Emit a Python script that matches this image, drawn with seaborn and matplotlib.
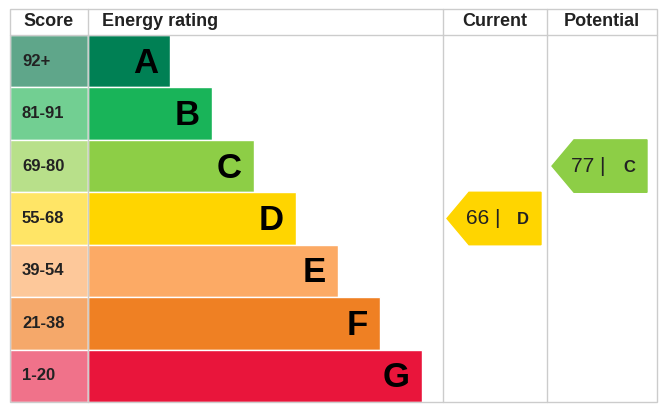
import matplotlib
matplotlib.use("Agg")
import matplotlib.pyplot as plt
from matplotlib.patches import Polygon, Rectangle
import seaborn as sns

sns.set_theme(style="white")
plt.rcParams['font.family'] = ['Liberation Sans', 'DejaVu Sans']

letters = ["A", "B", "C", "D", "E", "F", "G"]
score_ranges = ["92+", "81-91", "69-80", "55-68", "39-54", "21-38", "1-20"]
bar_colors = ["#008054", "#19b459", "#8dce46", "#ffd500", "#fcaa65", "#ef8023", "#e9153b"]
score_colors = ["#5fa68a", "#72cf92", "#b8e08a", "#ffe566", "#fdc89a", "#f5a86a", "#f0728a"]
current_value, current_letter = 66, "D"
potential_value, potential_letter = 77, "C"

fig = plt.figure(figsize=(6.62, 4.07), dpi=100)
ax = fig.add_axes([0, 0, 1, 1])
ax.set_xlim(0, 662)
ax.set_ylim(407, 0)
ax.axis("off")

top, hdr, bottom = 9, 35, 402
left, c1, c2, c3, right = 10, 88, 443, 547, 657
rh = (bottom - hdr) / 7
ys = [hdr + rh * i + rh / 2 for i in range(7)]
widths = [82 + 42 * i for i in range(7)]

ax.barh(ys, [c1 - left] * 7, left=left, height=rh, color=score_colors)
ax.barh(ys, widths, left=c1, height=rh, color=bar_colors)
for y, s, l, w in zip(ys, score_ranges, letters, widths):
    ax.text(22, y, s, ha="left", va="center", fontsize=12, fontweight="bold", color="#222222")
    ax.text(c1 + w - 12, y + 2, l, ha="right", va="center", fontsize=25, fontweight="bold", color="black")

# grid lines
lc = "#cccccc"
ax.add_patch(Rectangle((left, top), right - left, bottom - top, fill=False, ec=lc, lw=1))
ax.plot([left, right], [hdr, hdr], color=lc, lw=1)
for x in (c1, c2, c3):
    ax.plot([x, x], [top, bottom], color=lc, lw=1)

for x, t in [((left + c1) / 2, "Score"), (c1 + 14, "Energy rating"), ((c2 + c3) / 2, "Current"), ((c3 + right) / 2, "Potential")]:
    ax.text(x, 22, t, ha="center" if t != "Energy rating" else "left", va="center", fontsize=13, fontweight="bold", color="#222222")

def arrow(x0, x1, letter, value):
    i = letters.index(letter)
    y = ys[i]
    h = rh
    tip = 22
    pts = [(x0, y), (x0 + tip, y - h / 2), (x1, y - h / 2), (x1, y + h / 2), (x0 + tip, y + h / 2)]
    ax.add_patch(Polygon(pts, closed=True, color=bar_colors[i]))
    ax.text(x0 + tip - 3, y, f"{value} |", ha="left", va="center", fontsize=15, color="#222222")
    ax.text(x1 - 12, y + 1, letter, ha="right", va="center", fontsize=12, fontweight="bold", color="#222222")

arrow(447, 541, current_letter, current_value)
arrow(552, 647, potential_letter, potential_value)

fig.savefig("out.png", dpi=100)
